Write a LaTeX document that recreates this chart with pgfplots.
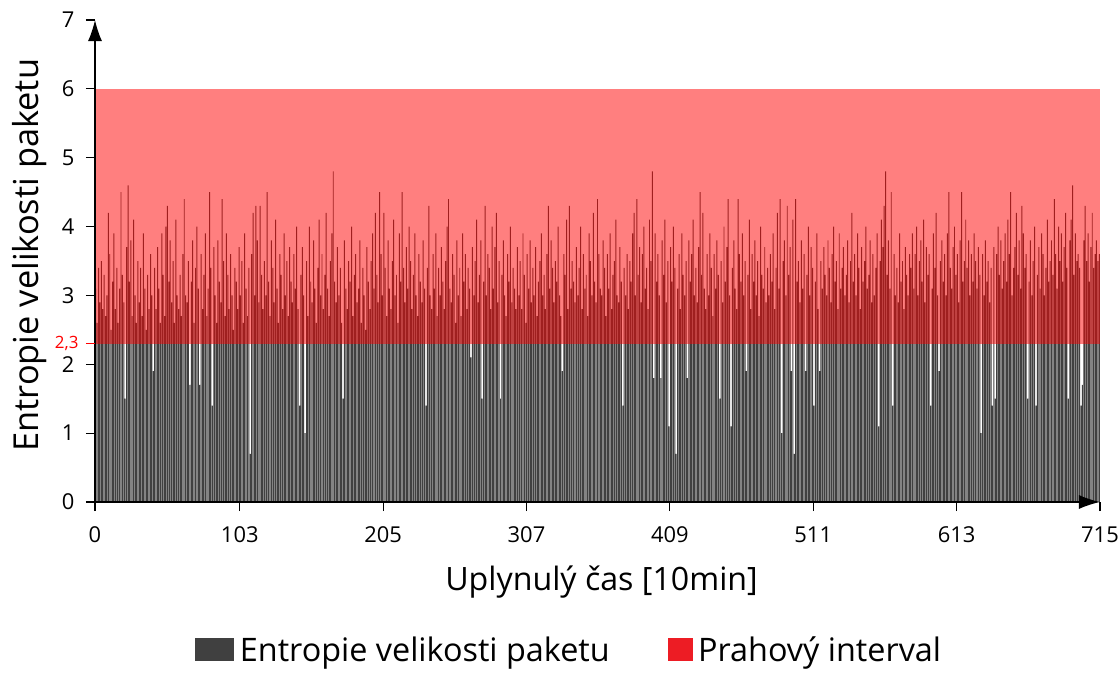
\documentclass[border=0pt]{standalone}
\usepackage{pgfplots}
\pgfplotsset{compat=1.18}
\usepackage{pgfplotstable}
\usetikzlibrary{arrows.meta}
\usepackage{fontspec}
\setmainfont{Open Sans}
\definecolor{barg}{HTML}{404040}
\definecolor{legred}{HTML}{ED1C24}
\newcommand\thrlabel{2,3}
\pgfplotstableread[row sep=\\]{
y\\
3.1\\2.6\\3.4\\2.9\\3.5\\2.8\\3.3\\2.7\\3.0\\4.2\\3.6\\2.5\\3.2\\3.9\\2.8\\3.4\\2.6\\3.1\\4.5\\3.3\\
2.9\\1.5\\3.7\\4.6\\3.2\\3.8\\2.7\\4.1\\3.0\\2.6\\3.5\\2.9\\3.4\\2.7\\3.9\\3.1\\2.5\\3.3\\2.8\\3.6\\
3.0\\1.9\\3.4\\2.8\\3.7\\3.1\\2.6\\3.9\\3.3\\2.7\\4.0\\4.3\\3.2\\3.8\\2.9\\3.5\\2.6\\4.1\\3.0\\2.8\\
3.3\\2.7\\3.6\\4.4\\3.0\\2.9\\3.5\\1.7\\3.2\\3.8\\2.6\\3.4\\4.0\\3.1\\1.7\\3.6\\2.8\\3.3\\3.9\\2.7\\
3.1\\4.5\\3.4\\1.4\\3.7\\3.0\\2.6\\3.8\\3.2\\2.9\\4.4\\3.5\\2.7\\3.9\\3.3\\2.8\\3.6\\3.0\\2.5\\3.4\\
3.2\\2.8\\3.7\\3.0\\3.5\\2.6\\3.9\\3.1\\2.7\\3.4\\0.7\\3.6\\4.2\\3.0\\4.3\\3.8\\2.9\\4.3\\3.3\\2.8\\
3.5\\3.0\\4.5\\3.2\\2.7\\3.8\\3.4\\2.9\\4.1\\3.1\\2.6\\3.6\\3.3\\2.8\\3.9\\3.0\\3.5\\2.7\\3.7\\3.2\\
2.9\\3.6\\3.1\\4.0\\2.8\\1.4\\3.3\\3.7\\3.0\\1.0\\3.5\\2.7\\4.0\\3.2\\2.9\\3.8\\3.1\\2.6\\3.4\\4.1\\
3.0\\3.6\\2.8\\3.3\\4.2\\3.1\\2.7\\3.5\\3.9\\4.8\\3.2\\2.9\\3.7\\3.0\\3.4\\2.6\\1.5\\3.8\\3.1\\2.8\\
3.5\\3.2\\4.0\\2.7\\3.3\\3.6\\2.9\\3.1\\3.8\\2.6\\3.4\\3.0\\2.5\\3.7\\3.2\\2.8\\3.5\\3.9\\3.1\\4.2\\
3.3\\2.9\\4.5\\3.6\\3.0\\4.2\\3.4\\2.7\\3.8\\3.1\\2.8\\3.5\\4.1\\3.0\\3.3\\2.6\\3.9\\3.2\\4.5\\3.4\\
2.9\\3.7\\3.1\\4.0\\3.5\\2.8\\3.3\\3.9\\3.0\\2.7\\3.6\\3.2\\2.9\\3.8\\3.1\\1.4\\3.4\\4.3\\3.0\\2.8\\
3.6\\3.1\\3.9\\2.7\\3.4\\3.0\\3.7\\3.2\\2.8\\3.5\\4.0\\4.4\\3.1\\2.9\\3.6\\3.3\\2.6\\3.8\\3.0\\3.4\\
2.7\\3.9\\3.2\\3.6\\2.8\\3.4\\3.1\\2.1\\3.7\\3.0\\3.5\\4.1\\2.9\\3.3\\3.8\\1.5\\3.2\\4.3\\3.0\\3.6\\
3.4\\2.8\\4.0\\3.1\\3.7\\4.2\\2.9\\3.5\\1.5\\3.3\\3.8\\3.0\\2.7\\3.6\\3.2\\4.0\\2.9\\3.4\\3.1\\2.8\\
3.7\\3.0\\3.5\\2.8\\3.9\\3.3\\2.6\\3.6\\3.1\\3.8\\2.9\\3.4\\3.0\\3.7\\2.7\\3.2\\3.5\\3.9\\3.0\\3.3\\
2.8\\3.6\\4.3\\3.1\\3.8\\3.4\\2.9\\3.5\\3.2\\4.0\\3.0\\2.7\\1.9\\3.6\\3.3\\4.1\\2.8\\4.3\\3.1\\3.5\\
3.2\\2.9\\3.7\\3.0\\3.4\\4.0\\2.8\\3.6\\3.1\\3.3\\2.7\\3.9\\3.5\\3.0\\4.2\\3.2\\2.9\\4.4\\3.6\\3.1\\
3.0\\3.8\\3.4\\2.7\\3.6\\3.1\\3.9\\2.8\\3.3\\3.5\\4.1\\3.0\\2.9\\3.7\\3.2\\1.4\\3.4\\3.0\\3.6\\2.8\\
3.5\\3.2\\3.9\\4.2\\3.0\\4.4\\3.3\\3.7\\2.9\\3.6\\4.0\\3.1\\3.4\\2.8\\4.1\\3.5\\4.8\\1.8\\3.9\\3.2\\
3.6\\3.0\\1.8\\3.8\\3.3\\4.1\\2.9\\3.5\\1.1\\3.7\\3.2\\4.0\\3.4\\0.7\\3.1\\3.6\\2.8\\3.9\\3.3\\3.0\\
3.5\\1.8\\3.8\\3.2\\3.6\\4.1\\3.0\\3.4\\2.9\\3.7\\4.5\\3.3\\4.2\\3.1\\2.8\\3.6\\3.0\\3.9\\3.4\\2.7\\
3.6\\3.1\\3.8\\3.3\\1.5\\3.5\\2.9\\4.0\\3.2\\3.7\\4.4\\3.0\\1.1\\3.4\\3.8\\3.1\\2.8\\4.4\\3.6\\3.2\\
3.9\\3.0\\3.5\\1.9\\3.3\\4.1\\2.8\\3.6\\3.2\\3.8\\3.0\\3.5\\2.7\\4.0\\3.3\\3.1\\3.7\\2.9\\3.4\\3.0\\
3.6\\3.2\\3.9\\2.8\\3.4\\4.2\\3.1\\4.4\\1.0\\3.5\\3.8\\3.0\\4.3\\3.3\\3.7\\1.9\\4.1\\0.7\\4.4\\3.2\\
3.5\\2.9\\3.8\\3.1\\3.6\\1.9\\3.3\\4.0\\3.0\\3.7\\3.4\\1.4\\3.2\\3.9\\2.8\\1.9\\3.5\\3.1\\3.7\\3.3\\
3.0\\3.8\\3.4\\2.9\\3.6\\4.0\\3.2\\3.5\\2.8\\3.9\\3.1\\3.4\\3.7\\3.0\\3.3\\3.8\\2.9\\3.5\\4.2\\3.2\\
3.6\\3.0\\3.9\\3.4\\2.8\\3.7\\3.2\\3.5\\4.0\\3.1\\3.3\\3.8\\2.9\\3.6\\3.0\\3.4\\3.9\\1.1\\3.5\\4.1\\
3.7\\4.3\\4.8\\3.3\\3.8\\3.1\\4.5\\1.4\\3.6\\3.0\\3.4\\2.9\\3.9\\3.2\\3.5\\2.8\\3.7\\3.3\\3.0\\3.6\\
3.4\\3.9\\3.1\\3.6\\4.0\\3.0\\3.5\\3.8\\3.2\\4.1\\2.9\\3.7\\3.3\\3.6\\1.4\\3.1\\3.9\\3.4\\4.2\\3.0\\
1.9\\3.5\\3.8\\3.2\\3.6\\3.0\\3.9\\4.5\\3.4\\3.1\\3.7\\4.0\\3.3\\3.6\\2.9\\3.8\\4.5\\3.2\\3.5\\4.1\\
3.4\\3.8\\3.0\\3.6\\3.2\\3.9\\3.5\\3.1\\3.7\\3.3\\1.0\\3.6\\3.0\\3.8\\3.2\\3.5\\2.9\\3.4\\1.4\\3.7\\
1.5\\3.6\\4.0\\3.3\\3.8\\3.1\\3.5\\3.9\\3.2\\4.1\\3.6\\4.5\\3.0\\3.4\\3.7\\4.2\\3.3\\3.8\\3.1\\4.3\\
3.9\\3.4\\3.6\\1.5\\3.2\\3.8\\3.0\\3.5\\4.0\\1.4\\3.3\\3.7\\3.1\\3.9\\3.6\\3.0\\3.4\\4.1\\3.2\\3.5\\
3.8\\3.3\\4.4\\3.6\\3.1\\4.0\\3.5\\3.9\\3.2\\3.7\\4.2\\3.4\\1.5\\3.8\\4.1\\4.6\\3.3\\3.9\\3.5\\3.6\\
3.4\\1.4\\1.7\\3.8\\4.3\\3.5\\3.9\\3.2\\3.7\\4.2\\3.4\\3.6\\3.8\\3.5\\3.6\\
}\entropy
\begin{document}
\begin{tikzpicture}
\useasboundingbox (-95bp,-171bp) rectangle (1023bp,502bp);
\begin{axis}[
  scale only axis,
  width=1005bp, height=482bp,
  xmin=0, xmax=715, ymin=0, ymax=7,
  axis x line*=bottom, axis y line*=left,
  axis on top,
  x axis line style={line width=1.3pt, -{Latex[length=21bp,width=14bp]}},
  y axis line style={line width=1.3pt, -{Latex[length=21bp,width=14bp]}},
  xtick={0,103,205,307,409,511,613,715},
  ytick={0,1,2,3,4,5,6,7},
  tick align=outside,
  major tick length=9bp,
  tick style={black, line width=1.2pt},
  /pgf/number format/assume math mode=true,
  ticklabel style={font=\fontsize{22}{25}\selectfont},
  xticklabel style={yshift=-12bp},
  yticklabel style={xshift=-8bp},
  extra y ticks={2.3},
  extra y tick labels={\thrlabel},
  extra y tick style={tick style={red, line width=1.2pt}, tick label style={red, font=\fontsize{17}{20}\selectfont, xshift=4bp}},
  xlabel={Uplynulý čas [10min]},
  ylabel={Entropie velikosti paketu},
  xlabel style={font=\fontsize{32.3}{37}\selectfont, at={(axis description cs:0.504,-0.166)}, anchor=center},
  ylabel style={font=\fontsize{34.5}{40}\selectfont, at={(axis description cs:-0.065,0.512)}, anchor=center},
  legend columns=2,
  legend style={at={(axis description cs:0.472,-0.27)}, anchor=north, draw=none, fill=none,
    font=\fontsize{32.5}{37}\selectfont,
    /tikz/every odd column/.append style={column sep=4bp},
    /tikz/every even column/.append style={column sep=56bp}},
  clip=false,
]
\addplot[ybar, bar width=0.7, fill=barg, draw=none, forget plot]
  table[x expr=\coordindex+0.5, y=y]{\entropy};
\addplot[fill=red, fill opacity=0.5, draw=none, forget plot]
  coordinates {(0,2.3) (715,2.3) (715,6) (0,6)} -- cycle;
\addlegendimage{legend image code/.code={\fill[barg] (0bp,-11bp) rectangle (38bp,11bp);}}
\addlegendentry{Entropie velikosti paketu}
\addlegendimage{legend image code/.code={\fill[legred] (0bp,-11bp) rectangle (24bp,11bp);}}
\addlegendentry{Prahový interval}
\end{axis}
\end{tikzpicture}
\end{document}
